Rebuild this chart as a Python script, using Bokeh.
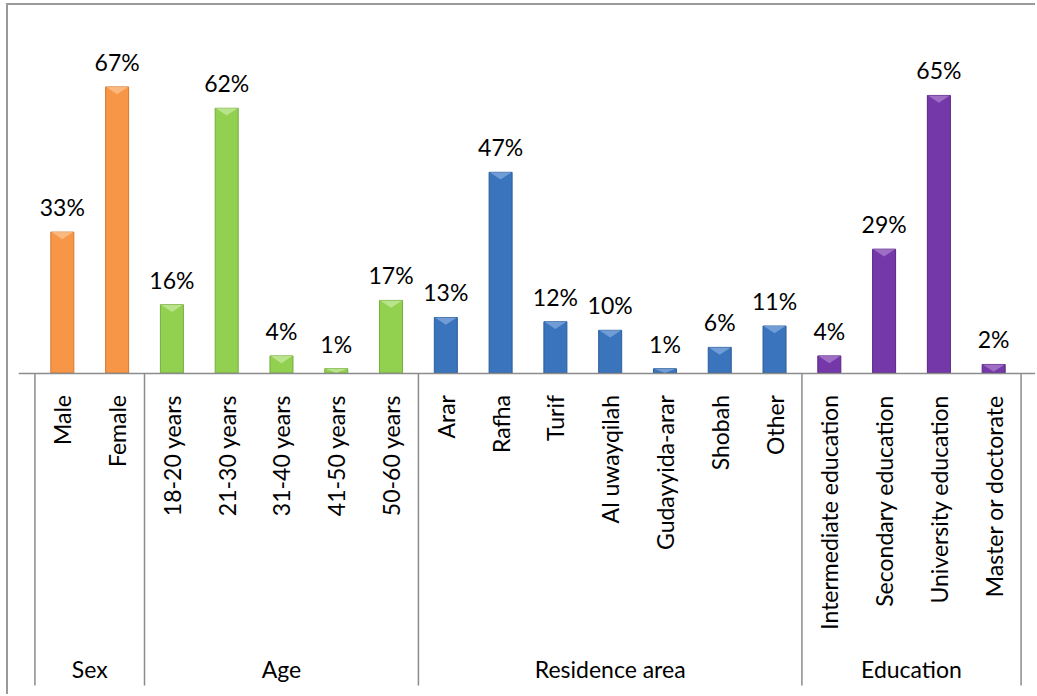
import math
import numpy as np
from bokeh.plotting import figure
from bokeh.models import FactorRange, CategoricalAxis, Range1d, ColumnDataSource
from bokeh.core.properties import value
from bokeh.embed import file_html
from bokeh.resources import INLINE

# ---- data ----
groups = ["Sex", "Age", "Residence area", "Education"]
sex_labels = ["Male", "Female"]
sex_values = [33, 67]
age_labels = ["18-20 years", "21-30 years", "31-40 years", "41-50 years", "50-60 years"]
age_values = [16, 62, 4, 1, 17]
residence_labels = ["Arar", "Rafha", "Turif", "Al uwayqilah", "Gudayyida-arar", "Shobah", "Other"]
residence_values = [13, 47, 12, 10, 1, 6, 11]
education_labels = ["Intermediate education", "Secondary education",
                    "University education", "Master or doctorate"]
education_values = [4, 29, 65, 2]

group_colors = ["#F79646", "#92D050", "#3A74BD", "#7438A8"]
edge_colors = ["#D9782E", "#74AE3C", "#2C5C99", "#5A2786"]
cap_colors = ["#FBC08C", "#C4E89A", "#7FA8DC", "#A77CCB"]

sub_labels = [sex_labels, age_labels, residence_labels, education_labels]
sub_values = [sex_values, age_values, residence_values, education_values]

factors, vals, fills, edges, caps = [], [], [], [], []
for g, labs, vs, fc, ec, cc in zip(groups, sub_labels, sub_values, group_colors, edge_colors, cap_colors):
    for lab, v in zip(labs, vs):
        factors.append((g, lab))
        vals.append(v)
        fills.append(fc)
        edges.append(ec)
        caps.append(cc)

sizes = [len(l) for l in sub_labels]
boundaries = np.concatenate([[0], np.cumsum(sizes)]).astype(float)
centers = np.arange(len(factors)) + 0.5

FONT = "Lato"
FS = "23px"
PX_PER_UNIT = 4.27      # pixels per percentage point
OFF_X, OFF_Y = 8, 5     # canvas offset inside the bordered box
W = 1037 - OFF_X
H = 696 - OFF_Y
BASE_PX = 372.5 - OFF_Y
SEP_BOTTOM_PX = 685 - OFF_Y

x_range = FactorRange(factors=factors, range_padding=0.3, range_padding_units="absolute",
                      group_padding=0, factor_padding=0)
y_range = Range1d(start=-(H - BASE_PX) / PX_PER_UNIT, end=BASE_PX / PX_PER_UNIT)

p = figure(width=W, height=H, x_range=x_range, y_range=y_range,
           output_backend="svg", toolbar_location=None,
           x_axis_type=None, y_axis_type=None,
           min_border_left=10, min_border_right=0, min_border_top=0, min_border_bottom=0,
           styles={"margin-left": "6px", "margin-top": "3px",
                   "border-left": "2px solid #9A9A9A", "border-top": "2px solid #9A9A9A"})
p.outline_line_color = None
p.grid.visible = False
p.background_fill_color = "white"
p.border_fill_color = "white"

src = ColumnDataSource(dict(x=factors, value=vals, fill=fills, edge=edges,
                            label=[f"{v}%" for v in vals]))

p.vbar(x="x", top="value", bottom=0, width=0.42, source=src,
       fill_color="fill", line_color="edge", line_width=1)

# bevel cap on top of each bar
cap_h = np.minimum(np.array(vals, dtype=float), 1.7)
xs = [[c - 0.2, c + 0.2, c] for c in centers]
ys = [[v, v, v - h] for v, h in zip(vals, cap_h)]
p.patches(xs=xs, ys=ys, fill_color=caps, line_color=None, fill_alpha=0.8)

p.text(x="x", y="value", text="label", source=src, text_align="center",
       text_baseline="alphabetic", y_offset=-25,
       text_font=value(FONT), text_font_size=FS, text_color="#000000")

# group separator lines
p.segment(x0=boundaries, y0=np.zeros_like(boundaries), x1=boundaries,
          y1=np.full_like(boundaries, -(SEP_BOTTOM_PX - BASE_PX) / PX_PER_UNIT),
          line_color="#8C8C8C", line_width=1.5)

axis = CategoricalAxis(fixed_location=0)
axis.axis_line_color = "#8C8C8C"
axis.axis_line_width = 1.5
axis.major_tick_line_color = None
axis.major_tick_out = 0
axis.major_tick_in = 0
axis.major_label_orientation = math.pi / 2
axis.major_label_standoff = 22
axis.major_label_text_font = FONT
axis.major_label_text_font_size = FS
axis.major_label_text_color = "#000000"
axis.group_text_font = FONT
axis.group_text_font_size = FS
axis.group_text_color = "#000000"
axis.group_text_font_style = "normal"
axis.separator_line_color = None
p.add_layout(axis, "below")

open("out.html", "w").write(file_html(p, INLINE))
